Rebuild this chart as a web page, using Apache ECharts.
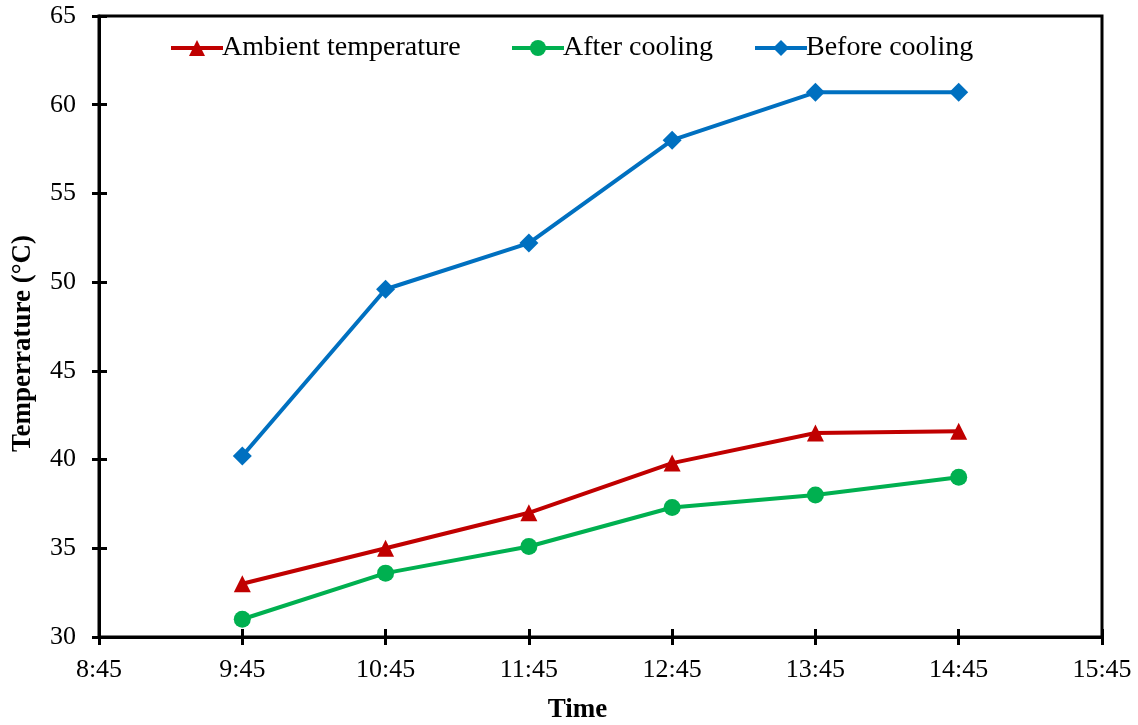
<!DOCTYPE html>
<html>
<head>
<meta charset="utf-8">
<script src="https://cdn.jsdelivr.net/npm/echarts@6/dist/echarts.min.js"></script>
<style>
  html, body { margin: 0; padding: 0; background: #fff; }
  #chart { width: 1138px; height: 725px; }
</style>
</head>
<body>
<div id="chart"></div>
<script>
// Time axis categories (hourly readings)
const timeLabels = ['8:45', '9:45', '10:45', '11:45', '12:45', '13:45', '14:45', '15:45'];

// Temperatures in °C; null where no reading was taken
const ambientTemp = [null, 33.0, 35.0, 37.0, 39.8, 41.5, 41.6, null];
const afterCooling = [null, 31.0, 33.6, 35.1, 37.3, 38.0, 39.0, null];
const beforeCooling = [null, 40.2, 49.6, 52.2, 58.0, 60.7, 60.7, null];

const yTicks = { min: 30, max: 65, interval: 5 };

const FONT = '"Liberation Serif", "Times New Roman", serif';
const axisLine = { show: true, lineStyle: { color: '#000', width: 3 } };

const chart = echarts.init(document.getElementById('chart'), null, { renderer: 'canvas' });

function legendAt(name, left) {
  return {
    data: [name],
    left: left,
    top: 29,
    itemWidth: 52,
    itemHeight: 20,
    lineStyle: { width: 4 },
    textStyle: { fontFamily: FONT, fontSize: 28, color: '#000', padding: [0, 0, 0, -6] }
  };
}

function lineSeries(name, data, color, symbol, size) {
  return {
    name: name,
    type: 'line',
    data: data,
    connectNulls: false,
    symbol: symbol,
    symbolSize: size,
    showSymbol: true,
    lineStyle: { color: color, width: 4 },
    itemStyle: { color: color },
    emphasis: { disabled: true },
    z: 3
  };
}

chart.setOption({
  animation: false,
  backgroundColor: '#fff',
  grid: {
    left: 99, right: 36, top: 16, bottom: 88,
    outerBoundsMode: 'none',
    containLabel: false,
    show: true, borderColor: '#000', borderWidth: 3, backgroundColor: 'transparent'
  },
  legend: [
    legendAt('Ambient temperature', 164),
    legendAt('After cooling', 505),
    legendAt('Before cooling', 748)
  ],
  xAxis: [
    {
      type: 'category',
      data: timeLabels,
      boundaryGap: false,
      name: 'Time',
      nameLocation: 'middle',
      nameGap: 60,
      nameTextStyle: { fontFamily: FONT, fontSize: 27, fontWeight: 'bold', color: '#000', padding: [0, 46, 0, 0] },
      axisLine: axisLine,
      axisTick: { show: true, alignWithLabel: true, length: 8, lineStyle: { color: '#000', width: 3 } },
      axisLabel: { fontFamily: FONT, fontSize: 26, color: '#000', margin: 20 },
      splitLine: { show: false }
    },
    {
      // inner half of the crossing tick marks
      type: 'category',
      data: timeLabels,
      boundaryGap: false,
      position: 'bottom',
      axisLine: { show: false },
      axisTick: { show: true, inside: true, length: 8, lineStyle: { color: '#000', width: 3 } },
      axisLabel: { show: false },
      splitLine: { show: false }
    }
  ],
  yAxis: [
    {
      type: 'value',
      min: yTicks.min, max: yTicks.max, interval: yTicks.interval,
      name: 'Temperrature (°C)',
      nameLocation: 'middle',
      nameGap: 62,
      nameTextStyle: { fontFamily: FONT, fontSize: 27, fontWeight: 'bold', color: '#000', padding: [0, 34, 0, 0] },
      axisLine: axisLine,
      axisTick: { show: true, length: 7, lineStyle: { color: '#000', width: 3 } },
      axisLabel: { fontFamily: FONT, fontSize: 26, color: '#000', margin: 23 },
      splitLine: { show: false }
    },
    {
      type: 'value',
      min: yTicks.min, max: yTicks.max, interval: yTicks.interval,
      position: 'left',
      axisLine: { show: false },
      axisTick: { show: true, inside: true, length: 8, lineStyle: { color: '#000', width: 3 } },
      axisLabel: { show: false },
      splitLine: { show: false }
    }
  ],
  series: [
    lineSeries('Ambient temperature', ambientTemp, '#C00000', 'triangle', 17),
    lineSeries('After cooling', afterCooling, '#00B050', 'circle', 17),
    lineSeries('Before cooling', beforeCooling, '#0070C0', 'diamond', 19)
  ]
});
</script>
</body>
</html>
